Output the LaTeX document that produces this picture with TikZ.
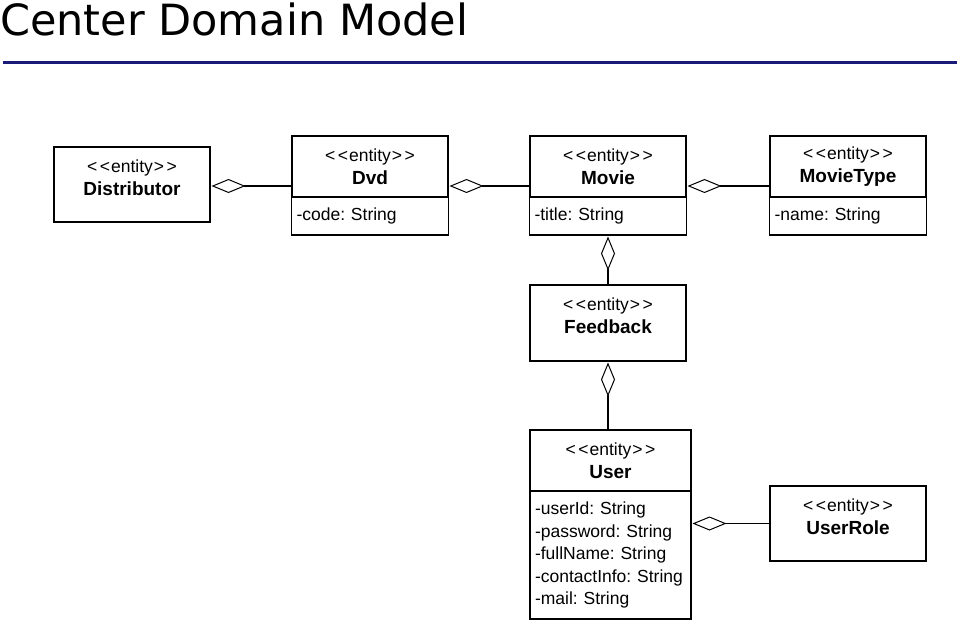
\documentclass[tikz,border=0pt]{standalone}
\usepackage{fontspec}
\setmainfont{Liberation Sans}
\newfontfamily\titlefont{DejaVu Sans}
\usetikzlibrary{arrows.meta,positioning}
\definecolor{RuleNavy}{HTML}{1A1A78}
\newcommand{\stereo}{<\kern2.5pt<\kern1pt entity\kern1pt>\kern2.5pt>}
\newcommand{\ename}[1]{{\fontsize{19}{22.5}\selectfont\bfseries #1}}
\tikzset{head/.style={minimum width=156pt,minimum height=61pt,align=center,outer sep=0pt,inner sep=0pt,font=\fontsize{17.5}{22.5}\selectfont},
box/.style={head,draw,line width=1.5pt},
attr/.style={draw,line width=1.5pt,minimum width=156pt,minimum height=38pt,text width=147pt,inner xsep=5pt,align=left,outer sep=0pt,font=\fontsize{17.5}{22.5}\selectfont\frenchspacing},
agg/.style={{Diamond[open,length=34pt,width=14pt,line width=1pt]}-,line width=1.5pt,shorten <=1.5pt}}

\begin{document}
\begin{tikzpicture}[x=1pt,y=-1pt]
\useasboundingbox (0,0) rectangle (960,621);
\node[anchor=base west,inner sep=0pt,font=\titlefont\fontsize{43}{50}\selectfont] (title) at (0,35) {Center Domain Model};
\draw[RuleNavy,line width=3pt] (3,62) -- (957,62);
% top row
\node[box,minimum height=75pt] (dist) at (132,184.5) {};
\node[head,below=0pt of dist.north] (distName) {\stereo\\\ename{Distributor}};
\node[box] (dvdH) at (370,166.5) {\stereo\\\ename{Dvd}};
\node[attr,below=0pt of dvdH] (dvdA) {-code: String};
\node[box] (movieH) at (608,166.5) {\stereo\\\ename{Movie}};
\node[attr,below=0pt of movieH] (movieA) {-title: String};
\node[box] (typeH) at (848,166.5) {\stereo\\\ename{MovieType}};
\node[attr,below=0pt of typeH] (typeA) {-name: String};
% middle column
\node[box,minimum height=76pt] (fb) at (608,323) {};
\node[head,below=0pt of fb.north] (fbName) {\stereo\\\ename{Feedback}};
\node[box,minimum width=161pt] (userH) at (610.5,460.5) {\stereo\\\ename{User}};
\node[attr,minimum width=161pt,text width=151pt,minimum height=128pt,below=0pt of userH] (userA) {-userId: String\\-password: String\\-fullName: String\\-contactInfo: String\\-mail: String};
\node[box,minimum height=75pt] (role) at (848,523.5) {};
\node[head,below=0pt of role.north] (roleName) {\stereo\\\ename{UserRole}};
% aggregations
\coordinate (row) at (0,186);
\draw[agg] (row -| dist.east) -- (row -| dvdH.west);
\draw[agg] (row -| dvdH.east) -- (row -| movieH.west);
\draw[agg] (row -| movieH.east) -- (row -| typeH.west);
\draw[agg] (movieA.south) -- (fb.north);
\draw[agg] (fb.south) -- (fb.south |- userH.north);
\draw[agg] (role.west -| userA.east) -- (role.west);
\end{tikzpicture}
\end{document}
